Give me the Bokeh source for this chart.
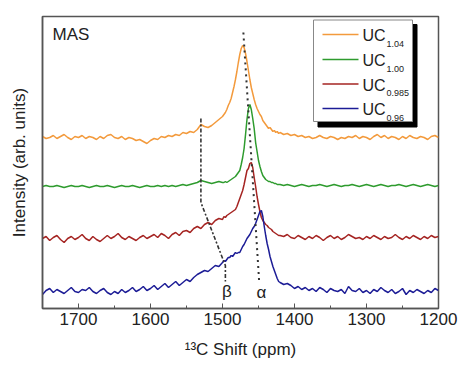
from bokeh.plotting import figure
from bokeh.models import Range1d, SingleIntervalTicker, FixedTicker, ColumnDataSource
from bokeh.core.properties import value
from bokeh.embed import file_html
from bokeh.resources import INLINE

# ---------------- data ----------------
shift_a = list(range(1750, 1499, -5))
shift_b = list(range(1498, 1421, -2))
shift_c = list(range(1420, 1199, -5))
shift_ppm = shift_a + shift_b + shift_c

uc104 = [172,170,171,173,170,172,174,171,169,172, 171,173,170,172,171,169,172,170,173,174,
         171,170,172,169,171,170,168,169,167,165, 168,170,169,172,171,173,172,174,173,176,
         175,177,176,179,184,182,181,183,186,189, 192,
         194,196,199,203,206,210,216,222,229,237, 246,254,260,263,261,255,247,238,229,221,
         215,209,204,200,197,194,192,188,186,184, 182,180,181,179,177,178,176,177,175,
         176,174,175,173,174,172,173,171,172,170, 171,173,171,170,172,171,169,171,170,172,
         171,173,170,172,171,169,172,174,171,173, 170,172,171,169,172,170,173,171,170,172,
         171,169,172,173,171]
uc100 = [122,123,122,122,123,122,121,122,123,122, 122,123,122,121,122,123,122,122,123,122,
         121,122,123,122,122,123,122,121,122,123, 122,122,123,122,123,122,123,122,123,124,
         123,124,125,126,128,127,126,125,126,127, 126,
         126,127,126,127,128,129,130,131,132,134, 136,138,144,151,160,174,189,200,204,199,
         190,180,166,157,148,142,137,133,131,129, 128,127,127,126,126,125,125,124,124,
         124,123,124,123,122,123,124,123,122,123, 123,124,123,122,123,124,123,122,123,123,
         124,123,122,123,124,123,122,123,124,123, 122,123,123,124,123,122,123,124,123,122,
         123,124,123,122,123]
uc0985 = [70,72,68,71,73,69,66,70,72,69, 71,74,70,68,72,69,67,70,73,70,
          72,75,71,69,72,70,68,71,73,70, 72,74,71,75,73,70,74,76,73,77,
          78,76,80,82,80,84,86,84,88,90, 89,
          92,91,93,94,95,96,97,98,99,102, 106,110,114,118,124,131,138,140,145,146,
          141,131,122,112,104,97,91,88,86,84, 83,81,80,79,77,76,75,74,73,
          73,72,74,71,70,73,71,69,72,70, 73,71,68,71,73,70,72,69,71,74,
          72,70,71,69,72,70,73,71,69,72, 70,71,74,71,69,72,70,73,71,69,
          72,70,73,71,72]
uc096 = [14,18,20,16,19,17,15,18,21,17, 16,19,18,21,17,15,18,20,16,14,
         17,15,19,16,18,21,17,19,22,18, 20,23,19,22,25,21,24,27,23,26,
         29,27,31,34,36,38,37,40,43,42, 46,
         48,47,49,51,51,53,52,54,56,55, 56,56,59,62,64,67,70,72,74,77,
         80,82,85,89,93,97,98,92,82,73, 65,59,52,47,42,38,34,30,27,
         26,24,25,23,20,22,19,21,18,20, 17,21,19,16,20,18,17,19,15,22,
         18,17,20,16,18,15,19,17,21,18, 16,19,15,17,20,14,18,16,19,17,
         15,18,16,20,18]

series_labels = ["1.04", "1.00", "0.985", "0.96"]
series_values = [uc104, uc100, uc0985, uc096]
series_colors = ["#F39A3C", "#2E9B2E", "#A52422", "#1C1C96"]

alpha_ppm = [1471, 1449]
alpha_int = [276, 26]
beta_ppm = [1530, 1530, 1496, 1496]
beta_int = [190, 106, 43, 27]

# ---------------- figure ----------------
FONT = "Liberation Sans"
p = figure(width=459, height=366, output_backend="svg", toolbar_location=None,
           x_range=Range1d(1750, 1200), y_range=Range1d(0, 292),
           min_border_left=42, min_border_right=21, min_border_top=16, min_border_bottom=58)
p.background_fill_color = "white"
p.border_fill_color = "white"
p.grid.visible = False
p.outline_line_color = "#555555"
p.outline_line_width = 1.5

# frame pixel -> data helpers (frame: x 42..438, y 16..308)
def px2x(px):
    return 1750 - (px - 42) * 550.0 / 396.0

def py2y(py):
    return 308 - py

ax = p.xaxis[0]
ax.ticker = SingleIntervalTicker(interval=100, num_minor_ticks=2)
ax.major_tick_in = 5
ax.major_tick_out = 0
ax.minor_tick_in = 3
ax.minor_tick_out = 0
ax.major_tick_line_color = "#555555"
ax.minor_tick_line_color = "#555555"
ax.axis_line_color = "#555555"
ax.axis_line_width = 1.5
ax.major_label_text_font = FONT
ax.major_label_text_font_size = "17px"
ax.major_label_text_color = "#222222"
ax.major_label_standoff = 4
ax.axis_label = "\u00b9\u00b3C Shift (ppm)"
ax.axis_label_text_font = FONT
ax.axis_label_text_font_size = "17px"
ax.axis_label_text_font_style = "normal"
ax.axis_label_text_color = "#222222"
ax.axis_label_standoff = 12

ay = p.yaxis[0]
ay.ticker = FixedTicker(ticks=[])
ay.major_tick_in = 0
ay.major_tick_out = 0
ay.minor_tick_in = 0
ay.minor_tick_out = 0
ay.major_label_standoff = 0
ay.axis_line_color = "#555555"
ay.axis_line_width = 1.5
ay.axis_label = "Intensity (arb. units)"
ay.axis_label_text_font = FONT
ay.axis_label_text_font_size = "17px"
ay.axis_label_text_font_style = "normal"
ay.axis_label_text_color = "#222222"
ay.axis_label_standoff = 14

# spectra
for vals, col in zip(series_values, series_colors):
    src = ColumnDataSource(dict(x=shift_ppm, y=vals))
    p.line("x", "y", source=src, line_color=col, line_width=1.5)

# guide lines
p.line(alpha_ppm, alpha_int, line_color="#333333", line_width=2, line_dash="2 4")
p.line(beta_ppm, beta_int, line_color="#333333", line_width=1.6, line_dash="4 2 2 2")

# texts
p.text(x=[px2x(52)], y=[py2y(33.5)], text=["MAS"], text_font=value(FONT),
       text_font_size="17px", text_color="#222222", text_baseline="middle", text_align="left")
p.text(x=[px2x(226.5), px2x(261)], y=[py2y(291), py2y(292)], text=["\u03b2", "\u03b1"],
       text_font=value(FONT), text_font_size="17px", text_color="#222222",
       text_baseline="middle", text_align="center")

# legend (drawn manually for subscripts)
p.quad(left=[px2x(317.5)], right=[px2x(416.5)], top=[py2y(24)], bottom=[py2y(126.5)],
       fill_color="black", line_color="black")
p.quad(left=[px2x(313)], right=[px2x(412)], top=[py2y(19.5)], bottom=[py2y(121)],
       fill_color="white", line_color="#888888", line_width=1)
row_y = [34, 59, 83.5, 108]
for ry, lab, col in zip(row_y, series_labels, series_colors):
    p.line([px2x(322), px2x(358)], [py2y(ry), py2y(ry)], line_color=col, line_width=1.5)
    p.text(x=[px2x(362)], y=[py2y(ry + 1)], text=["UC"], text_font=value(FONT),
           text_font_size="16px", text_color="#222222", text_baseline="middle")
    p.text(x=[px2x(386)], y=[py2y(ry + 9)], text=[lab], text_font=value(FONT),
           text_font_size="9px", text_color="#222222", text_baseline="middle")

open("out.html", "w").write(file_html(p, INLINE))
